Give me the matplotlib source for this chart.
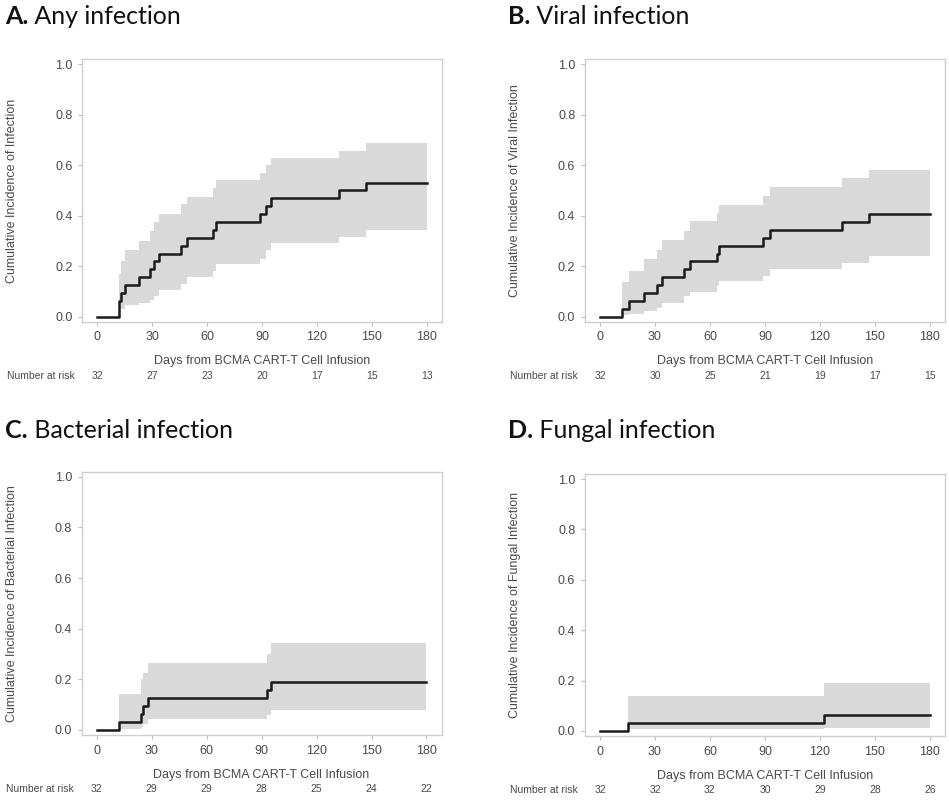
import matplotlib
matplotlib.use("Agg")
import matplotlib.pyplot as plt
from matplotlib.transforms import blended_transform_factory

# ---- data ------------------------------------------------------------------
# event days, cumulative incidence after each event, 95% band after each event
a_days = [0, 12, 13, 15, 23, 29, 31, 34, 46, 49, 63, 65, 89, 92, 95, 132, 147]
a_cif = [0, 0.0625, 0.094, 0.125, 0.156, 0.1875, 0.219, 0.25, 0.281, 0.3125,
         0.344, 0.375, 0.406, 0.4375, 0.469, 0.5, 0.531]
a_lo = [0, 0.02, 0.03, 0.046, 0.055, 0.066, 0.08, 0.105, 0.13, 0.158,
        0.18, 0.21, 0.23, 0.265, 0.29, 0.317, 0.343]
a_hi = [0, 0.17, 0.22, 0.265, 0.30, 0.34, 0.375, 0.405, 0.445, 0.475,
        0.51, 0.54, 0.57, 0.60, 0.63, 0.658, 0.687]
a_risk = [32, 27, 23, 20, 17, 15, 13]

b_days = [0, 12, 16, 24, 31, 34, 46, 49, 64, 65, 89, 93, 132, 147]
b_cif = [0, 0.031, 0.0625, 0.094, 0.125, 0.156, 0.1875, 0.219, 0.25, 0.281,
         0.3125, 0.344, 0.375, 0.406]
b_lo = [0, 0.005, 0.012, 0.022, 0.035, 0.055, 0.08, 0.096, 0.12, 0.14,
        0.162, 0.189, 0.213, 0.242]
b_hi = [0, 0.136, 0.182, 0.228, 0.265, 0.305, 0.34, 0.378, 0.41, 0.444,
        0.479, 0.515, 0.549, 0.581]
b_risk = [32, 30, 25, 21, 19, 17, 15]

c_days = [0, 12, 24, 25, 28, 93, 95]
c_cif = [0, 0.031, 0.0625, 0.094, 0.125, 0.156, 0.1875]
c_lo = [0, 0.004, 0.012, 0.022, 0.042, 0.06, 0.079]
c_hi = [0, 0.141, 0.20, 0.224, 0.265, 0.30, 0.342]
c_risk = [32, 29, 29, 28, 25, 24, 22]

d_days = [0, 15, 122]
d_cif = [0, 0.031, 0.0625]
d_lo = [0, 0.007, 0.013]
d_hi = [0, 0.139, 0.189]
d_risk = [32, 32, 32, 30, 29, 28, 26]

risk_days = [0, 30, 60, 90, 120, 150, 180]
end_day = 180

panels = [
    ("A.", " Any infection", "Cumulative Incidence of Infection",
     a_days, a_cif, a_lo, a_hi, a_risk),
    ("B.", " Viral infection", "Cumulative Incidence of Viral Infection",
     b_days, b_cif, b_lo, b_hi, b_risk),
    ("C.", " Bacterial infection", "Cumulative Incidence of Bacterial Infection",
     c_days, c_cif, c_lo, c_hi, c_risk),
    ("D.", " Fungal infection", "Cumulative Incidence of Fungal Infection",
     d_days, d_cif, d_lo, d_hi, d_risk),
]

# ---- layout (pixels of a 949x805 canvas) -----------------------------------
W, H = 949, 805
boxes = [(82.3, 59.3, 441.7, 321.7), (585, 59.3, 945, 321.7),
         (81.7, 471.7, 441.7, 735), (585, 474, 945, 736)]
title_pos = [(5, 24), (508, 24), (5, 438), (508, 438)]

plt.rcParams["font.family"] = ["Liberation Sans", "DejaVu Sans"]
TXT = "#4a4a4a"
fig = plt.figure(figsize=(W / 100, H / 100), dpi=100)

for (bold, rest, ylab, days, cif, lo, hi, risk), box, tp in zip(panels, boxes, title_pos):
    l, t, r, b = box
    ax = fig.add_axes([l / W, 1 - b / H, (r - l) / W, (b - t) / H])

    # band + step curve
    bx = days[1:] + [end_day]
    ax.fill_between(bx, lo[1:] + [lo[-1]], hi[1:] + [hi[-1]], step="post",
                    color="#d9d9d9", lw=0, zorder=1)
    ax.step(days + [end_day], cif + [cif[-1]], where="post",
            color="#1a1a1a", lw=1.8, zorder=2)

    ax.set_xlim(-8.2, 188.3)
    ax.set_ylim(-0.02, 1.02)
    ax.set_xticks(risk_days)
    ax.set_yticks([0, 0.2, 0.4, 0.6, 0.8, 1.0])
    ax.set_yticklabels([f"{v:.1f}" for v in ax.get_yticks()])
    for s in ax.spines.values():
        s.set_color("#cfcfcf")
        s.set_linewidth(1.0)
    ax.tick_params(direction="out", length=3, width=0.8, color="#bdbdbd",
                   labelcolor=TXT, labelsize=9, pad=4)

    ax.set_ylabel(ylab, fontsize=9, color=TXT)
    ax.yaxis.set_label_coords(-64 / (r - l), 0.5)

    tr = blended_transform_factory(ax.transData, ax.transAxes)
    ax.annotate("Days from BCMA CART-T Cell Infusion", xy=(90, 0), xycoords=tr,
                xytext=(0, -28.5), textcoords="offset points",
                ha="center", va="center", fontsize=9, color=TXT)
    ax.annotate("Number at risk", xy=(-75.5 / (r - l), 0), xycoords="axes fraction",
                xytext=(0, -39), textcoords="offset points",
                ha="left", va="center", fontsize=7.5, color=TXT)
    for d, n in zip(risk_days, risk):
        ax.annotate(str(n), xy=(d, 0), xycoords=tr, xytext=(0, -39),
                    textcoords="offset points", ha="center", va="center",
                    fontsize=7.5, color=TXT)

    # panel title: bold letter + regular text
    t1 = fig.text(tp[0] / W, 1 - tp[1] / H, bold, fontsize=18, fontweight="bold",
                  family="Lato", va="baseline", ha="left", color="#111111")
    ax.annotate(rest, xy=(1, 0), xycoords=t1, va="bottom", ha="left",
                fontsize=18, family="Lato", color="#111111", annotation_clip=False)

fig.savefig("out.png", dpi=100, facecolor="white")
